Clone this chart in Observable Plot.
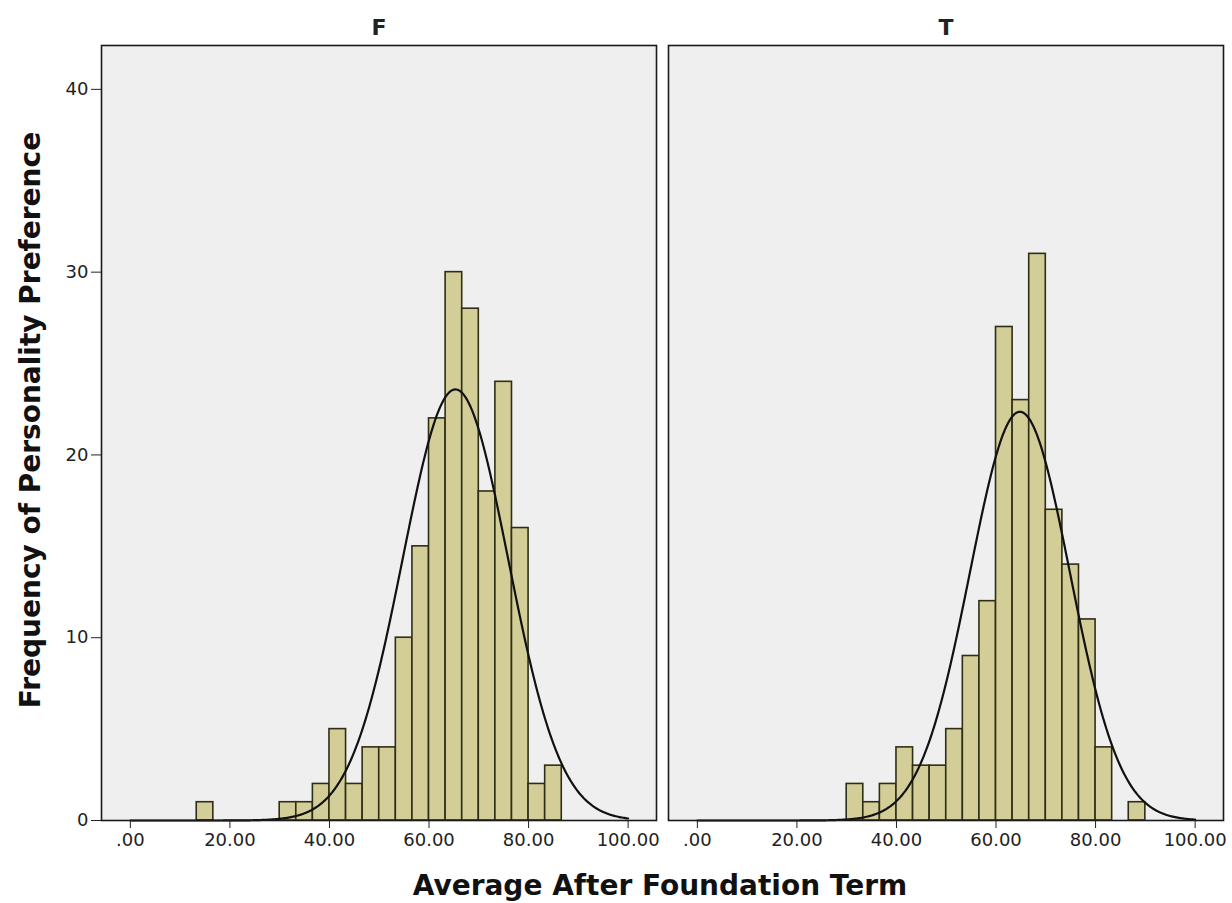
<!DOCTYPE html>
<html><head><meta charset="utf-8">
<script src="https://cdn.jsdelivr.net/npm/d3@7"></script>
<script src="https://cdn.jsdelivr.net/npm/@observablehq/plot@0.6"></script>
<style>
body{margin:0;background:#fff;}
#chart{width:1232px;height:903px;}
</style>
</head><body><div id="chart"></div>
<script>
// ---- data ----
const facets = ["F", "T"];
const binWidth = 10 / 3;
const fBinStart = [13.333, 30, 33.333, 36.667, 40, 43.333, 46.667, 50, 53.333, 56.667, 60, 63.333, 66.667, 70, 73.333, 76.667, 80, 83.333];
const fCounts   = [1, 1, 1, 2, 5, 2, 4, 4, 10, 15, 22, 30, 28, 18, 24, 16, 2, 3];
const tBinStart = [30, 33.333, 36.667, 40, 43.333, 46.667, 50, 53.333, 56.667, 60, 63.333, 66.667, 70, 73.333, 76.667, 80, 86.667];
const tCounts   = [2, 1, 2, 4, 3, 3, 5, 9, 12, 27, 23, 31, 17, 14, 11, 4, 1];
// normal-curve fit parameters (mean, sd) per facet
const fitMean = [65.3, 64.8];
const fitSD   = [10.6, 10.05];
const xTicks = [0, 20, 40, 60, 80, 100];
const yTicks = [0, 10, 20, 30, 40];
const xTitle = "Average After Foundation Term";
const yTitle = "Frequency of Personality Preference";

// ---- build tables ----
const bars = [
  ...fBinStart.map((s, i) => ({facet: "F", lo: s, hi: s + binWidth, count: fCounts[i]})),
  ...tBinStart.map((s, i) => ({facet: "T", lo: s, hi: s + binWidth, count: tCounts[i]}))
];
const totals = [d3.sum(fCounts), d3.sum(tCounts)];
const curve = [];
facets.forEach((f, k) => {
  const m = fitMean[k], s = fitSD[k], n = totals[k];
  for (let x = 0; x <= 100.001; x += 0.25) {
    const y = n * binWidth * Math.exp(-((x - m) ** 2) / (2 * s * s)) / (s * Math.sqrt(2 * Math.PI));
    curve.push({facet: f, x, y});
  }
});

const font = "DejaVu Sans, Verdana, sans-serif";
const plot = Plot.plot({
  width: 1232,
  height: 903,
  marginTop: 45,
  marginBottom: 83,
  marginLeft: 101,
  marginRight: 9,
  style: {fontFamily: font, color: "#222", background: "#fff"},
  fx: {domain: facets, paddingInner: 0.0212, paddingOuter: 0, label: null},
  x: {domain: [-5.8, 105.7]},
  y: {domain: [0, 42.4]},
  marks: [
    Plot.frame({fill: "#efefef"}),
    Plot.rectY(bars, {fx: "facet", x1: "lo", x2: "hi", y: "count", fill: "#d3ce98", stroke: "#2e2e16", strokeWidth: 1.6}),
    Plot.line(curve, {fx: "facet", x: "x", y: "y", stroke: "#111", strokeWidth: 2.2}),
    Plot.frame({stroke: "#1a1a1a", strokeWidth: 1.6}),
    Plot.axisY({ticks: yTicks, tickSize: 10, tickPadding: 3, fontSize: 18, label: null, tickFormat: d3.format("d")}),
    Plot.axisX({ticks: xTicks, tickSize: 8, tickPadding: 5, fontSize: 18, label: null,
      tickFormat: d => d === 0 ? ".00" : d.toFixed(2)}),
    Plot.axisFx({anchor: "top", tickSize: 0, tickPadding: 11, fontSize: 22, fontWeight: "bold", label: null})
  ]
});
document.getElementById("chart").appendChild(plot);

const svg = d3.select(plot);
svg.append("text")
  .attr("x", 660).attr("y", 895)
  .attr("text-anchor", "middle")
  .attr("font-family", font).attr("font-weight", "bold").attr("font-size", 28)
  .attr("fill", "#111")
  .text(xTitle);
svg.append("text")
  .attr("transform", "translate(40,420) rotate(-90)")
  .attr("text-anchor", "middle")
  .attr("font-family", font).attr("font-weight", "bold").attr("font-size", 28)
  .attr("fill", "#111")
  .text(yTitle);
</script>
</body></html>
